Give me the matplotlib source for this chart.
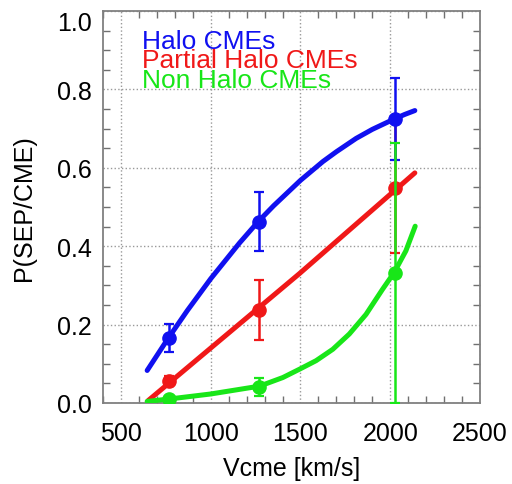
import matplotlib
matplotlib.use("Agg")
import matplotlib.pyplot as plt
from matplotlib.ticker import MultipleLocator

plt.rcParams['font.family'] = ['Liberation Sans', 'DejaVu Sans']

# measured points (Vcme in km/s, probability)
vcme = [765, 1270, 2025]
halo_p = [0.165, 0.463, 0.725]
halo_err = [0.036, 0.075, 0.105]
partial_p = [0.056, 0.237, 0.549]
partial_err = [0.012, 0.077, 0.166]
non_p = [0.010, 0.041, 0.332]
non_err = [0.008, 0.024, 0.332]

# fitted curves
halo_fit_v = [646, 763, 870, 1000, 1160, 1263, 1350, 1440, 1500, 1625, 1700,
              1810, 1900, 2020, 2080, 2137]
halo_fit_p = [0.083, 0.165, 0.236, 0.317, 0.408, 0.462, 0.503, 0.542, 0.568,
              0.616, 0.641, 0.675, 0.698, 0.724, 0.736, 0.746]
partial_fit_v = [651, 1494, 2137]
partial_fit_p = [0.006, 0.330, 0.587]
non_fit_v = [646, 765, 1000, 1272, 1402, 1498, 1587, 1680, 1772, 1865, 1957,
             2022, 2087, 2139]
non_fit_p = [0.004, 0.010, 0.023, 0.043, 0.065, 0.087, 0.108, 0.137, 0.176,
             0.226, 0.290, 0.333, 0.388, 0.451]

labels = ["Halo CMEs", "Partial Halo CMEs", "Non Halo CMEs"]
colors = ["#1010f0", "#f01818", "#18e618"]

fig = plt.figure(figsize=(5.12, 4.85), dpi=100)
ax = fig.add_axes([103 / 512, 81 / 485, 377 / 512, 392 / 485])

fits = [(halo_fit_v, halo_fit_p), (partial_fit_v, partial_fit_p), (non_fit_v, non_fit_p)]
for (fv, fp), c in zip(fits, colors):
    ax.plot(fv, fp, color=c, lw=3.6, solid_capstyle='round',
            solid_joinstyle='round', zorder=3)

pts = [(partial_p, partial_err), (halo_p, halo_err), (non_p, non_err)]
cols = [colors[1], colors[0], colors[2]]
for i, ((p, e), c) in enumerate(zip(pts, cols)):
    ax.errorbar(vcme, p, yerr=e, fmt='o', color=c, ms=9.5, elinewidth=1.8,
                capsize=3.6, capthick=1.6, zorder=4 + i)

ax.set_xlim(400, 2500)
ax.set_ylim(0, 1.0)
ax.xaxis.set_major_locator(MultipleLocator(500))
ax.xaxis.set_minor_locator(MultipleLocator(100))
ax.yaxis.set_major_locator(MultipleLocator(0.2))
ax.yaxis.set_minor_locator(MultipleLocator(0.05))
ax.yaxis.set_major_formatter(plt.FormatStrFormatter('%.1f'))
ax.grid(True, which='major', color='#999999', linestyle=':', linewidth=1)
ax.tick_params(which='major', length=0, labelsize=18)
ax.tick_params(axis='x', which='major', pad=13)
ax.tick_params(axis='y', which='major', pad=8)
ax.tick_params(which='minor', direction='in', length=5, width=1,
               color='#707070', top=True, right=True)
for s in ax.spines.values():
    s.set_color('#808080')
    s.set_linewidth(1.3)

ax.set_xlabel("Vcme [km/s]", fontsize=18, labelpad=8)
ax.set_ylabel("P(SEP/CME)", fontsize=18, labelpad=15)

# the top y label sits a bit lower in the original
fig.canvas.draw()
for tick in ax.yaxis.get_major_ticks():
    if abs(tick.get_loc() - 1.0) < 1e-6:
        tick.label1.set_verticalalignment('top')

ys = [0.906, 0.856, 0.807]
for t, c, y in zip(labels, colors, ys):
    ax.text(0.103, y, t, color=c, fontsize=19, transform=ax.transAxes,
            va='baseline', ha='left', zorder=10)

fig.savefig("out.png", dpi=100)
